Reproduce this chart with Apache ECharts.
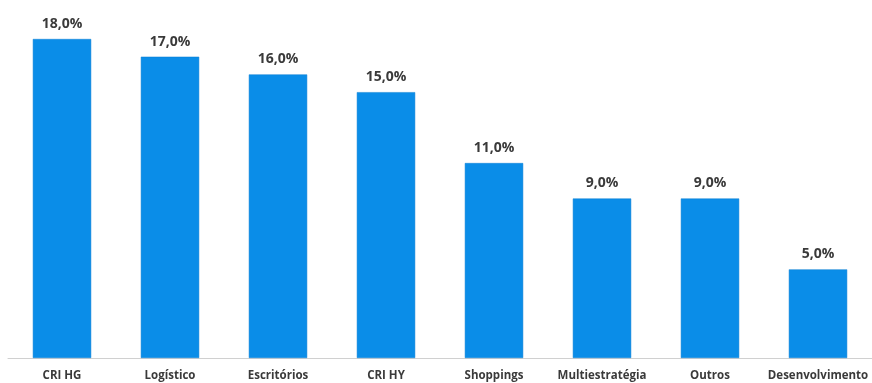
<!DOCTYPE html>
<html>
<head>
<meta charset="utf-8">
<script src="https://cdn.jsdelivr.net/npm/echarts@6/dist/echarts.min.js"></script>
<style>
  html, body { margin: 0; padding: 0; background: #fff; }
  #chart { width: 872px; height: 383px; }
</style>
</head>
<body>
<div id="chart"></div>
<script>
// categorias e alocação (%)
const categorias = ['CRI HG', 'Logístico', 'Escritórios', 'CRI HY', 'Shoppings', 'Multiestratégia', 'Outros', 'Desenvolvimento'];
const valores = [18, 17, 16, 15, 11, 9, 9, 5];

const chart = echarts.init(document.getElementById('chart'));

chart.setOption({
    animation: false,
    grid: { left: 8, right: 0, top: 39, bottom: 25 },
    xAxis: {
        type: 'category',
        data: categorias,
        axisLine: { lineStyle: { color: '#d0d0d0', width: 1 } },
        axisTick: { show: false },
        axisLabel: {
            interval: 0,
            margin: 12,
            color: '#3a3a3a',
            fontFamily: 'Open Sans',
            fontWeight: 'bold',
            fontSize: 11.5
        }
    },
    yAxis: {
        type: 'value',
        min: 0,
        max: 18,
        show: false
    },
    series: [{
        type: 'bar',
        data: valores,
        barWidth: '54%',
        itemStyle: { color: '#0a8de8', borderColor: '#0a7fd2', borderWidth: 0.5 },
        label: {
            show: true,
            position: 'top',
            distance: 8,
            color: '#3a3a3a',
            fontFamily: 'Open Sans',
            fontWeight: 'bold',
            fontSize: 14,
            formatter: p => p.value.toFixed(1).replace('.', ',') + '%'
        }
    }]
});
</script>
</body>
</html>
